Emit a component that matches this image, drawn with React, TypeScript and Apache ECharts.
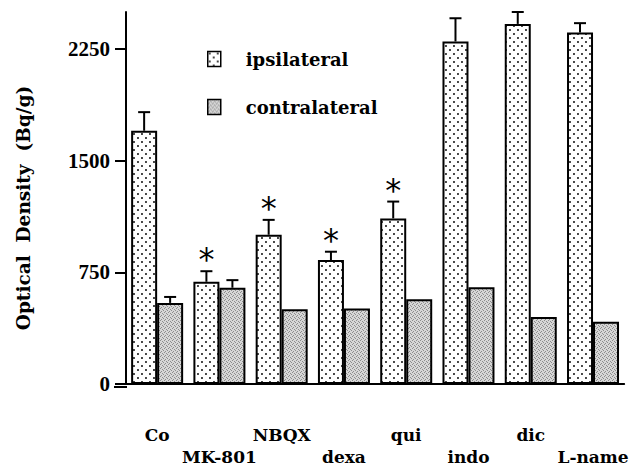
import React, { useEffect, useRef } from "react";
import * as echarts from "echarts";

const categories = ["Co", "MK-801", "NBQX", "dexa", "qui", "indo", "dic", "L-name"];
const ipsilateral = [1702, 687, 1003, 833, 1113, 2302, 2420, 2362];
const ipsilateralErr = [125, 71, 100, 56, 113, 156, 80, 63];
const contralateral = [545, 647, 502, 507, 569, 651, 451, 418];
const contralateralErr = [40, 51, 0, 0, 0, 0, 0, 0];
const significant = [false, true, true, true, true, false, false, false];
const yTicks = [0, 750, 1500, 2250];

const serif = "'DejaVu Serif', serif";
const timesLike = "'Liberation Serif', 'Times New Roman', serif";

function makeDotPattern(): HTMLCanvasElement {
  const c = document.createElement("canvas");
  c.width = 8;
  c.height = 8;
  const ctx = c.getContext("2d")!;
  ctx.fillStyle = "#ffffff";
  ctx.fillRect(0, 0, 8, 8);
  ctx.fillStyle = "#000000";
  ctx.beginPath();
  ctx.arc(2, 2, 0.95, 0, Math.PI * 2);
  ctx.arc(6, 6, 0.95, 0, Math.PI * 2);
  ctx.fill();
  return c;
}

function makeGrayPattern(): HTMLCanvasElement {
  const c = document.createElement("canvas");
  c.width = 4;
  c.height = 4;
  const ctx = c.getContext("2d")!;
  ctx.fillStyle = "#d6d6d6";
  ctx.fillRect(0, 0, 4, 4);
  ctx.fillStyle = "#8c8c8c";
  [[0, 0], [2, 1], [1, 3], [3, 2]].forEach(([x, y]) => ctx.fillRect(x, y, 1, 1));
  return c;
}

export default function App() {
  const ref = useRef<HTMLDivElement>(null);
  useEffect(() => {
    if (!ref.current) return;
    const chart = echarts.init(ref.current, null, { renderer: "svg" });
    const dot = makeDotPattern();
    const gray = makeGrayPattern();
    const dotFill: any = { image: dot, repeat: "repeat", imageWidth: 8, imageHeight: 8 };
    const grayFill: any = { image: gray, repeat: "repeat", imageWidth: 4, imageHeight: 4 };

    const errSeries = (vals: number[], errs: number[], offset: number, withSig: boolean) => ({
      type: "custom",
      silent: true,
      z: 5,
      clip: false,
      data: vals.map((v, i) => [i, v, errs[i], withSig && significant[i] ? 1 : 0]),
      encode: { x: 0, y: 1 },
      renderItem: (params: any, api: any) => {
        const i = api.value(0);
        const v = api.value(1);
        const e = api.value(2);
        const s = api.value(3);
        const top = api.coord([i, v]);
        const cap = api.coord([i, v + e]);
        const x = top[0] + offset;
        const children: any[] = [];
        if (e > 0) {
          children.push({
            type: "line",
            shape: { x1: x, y1: top[1], x2: x, y2: cap[1] },
            style: { stroke: "#000", lineWidth: 2 },
          });
          children.push({
            type: "line",
            shape: { x1: x - 6, y1: cap[1], x2: x + 6, y2: cap[1] },
            style: { stroke: "#000", lineWidth: 2 },
          });
        }
        if (s) {
          children.push({
            type: "text",
            style: {
              text: "*",
              x: x,
              y: cap[1] - 12,
              align: "center",
              verticalAlign: "middle",
              font: "normal 32px 'DejaVu Sans', sans-serif",
              fill: "#000",
            },
          });
        }
        return { type: "group", children };
      },
    });

    chart.setOption({
      animation: false,
      backgroundColor: "#ffffff",
      grid: { left: 126, top: 12, width: 508, height: 375 },
      legend: {
        left: 202,
        top: 45,
        orient: "vertical",
        icon: "rect",
        itemWidth: 13,
        itemHeight: 15,
        itemGap: 30,
        itemStyle: { borderColor: "#000", borderWidth: 1.5 },
        textStyle: {
          fontFamily: serif,
          fontWeight: "bold",
          fontSize: 18,
          color: "#000",
          padding: [0, 0, 0, 20],
        },
        data: ["ipsilateral", "contralateral"],
      },
      xAxis: {
        type: "category",
        data: categories,
        axisLine: { lineStyle: { color: "#000", width: 2 } },
        axisTick: { alignWithLabel: true, length: 10, lineStyle: { color: "#000", width: 2 } },
        axisLabel: {
          interval: 0,
          margin: 40,
          lineHeight: 22,
          fontFamily: serif,
          fontWeight: "bold",
          fontSize: 17,
          color: "#000",
          formatter: (v: string, idx: number) => (idx % 2 === 1 ? "\n" + v : v),
        },
      },
      yAxis: {
        type: "value",
        min: 0,
        max: 2500,
        interval: 250,
        splitLine: { show: false },
        axisLine: { show: true, lineStyle: { color: "#000", width: 2 } },
        axisTick: { show: true, length: 11, customValues: yTicks, lineStyle: { color: "#000", width: 2 } },
        axisLabel: {
          customValues: yTicks,
          margin: 16,
          fontFamily: timesLike,
          fontWeight: "bold",
          fontSize: 21,
          color: "#000",
          formatter: (v: number) => String(v),
        },
      },
      graphic: [
        {
          type: "line",
          shape: { x1: 114, y1: 387, x2: 127, y2: 387 },
          style: { stroke: "#000", lineWidth: 2 },
        },
        {
          type: "text",
          x: 23,
          y: 208,
          rotation: Math.PI / 2,
          style: {
            text: "Optical  Density  (Bq/g)",
            align: "center",
            verticalAlign: "middle",
            font: "bold 18.5px 'DejaVu Serif', serif",
            fill: "#000",
          },
        },
      ],
      series: [
        {
          name: "ipsilateral",
          type: "bar",
          data: ipsilateral,
          barWidth: 26,
          barGap: "0%",
          itemStyle: { color: dotFill, borderColor: "#000", borderWidth: 2 },
        },
        {
          name: "contralateral",
          type: "bar",
          data: contralateral,
          barWidth: 26,
          barGap: "0%",
          itemStyle: { color: grayFill, borderColor: "#000", borderWidth: 2 },
        },
        errSeries(ipsilateral, ipsilateralErr, -13, true),
        errSeries(contralateral, contralateralErr, 13, false),
      ],
    });
    return () => chart.dispose();
  }, []);
  return <div ref={ref} style={{ width: 631, height: 468, position: "absolute", left: 0, top: 0 }} />;
}
